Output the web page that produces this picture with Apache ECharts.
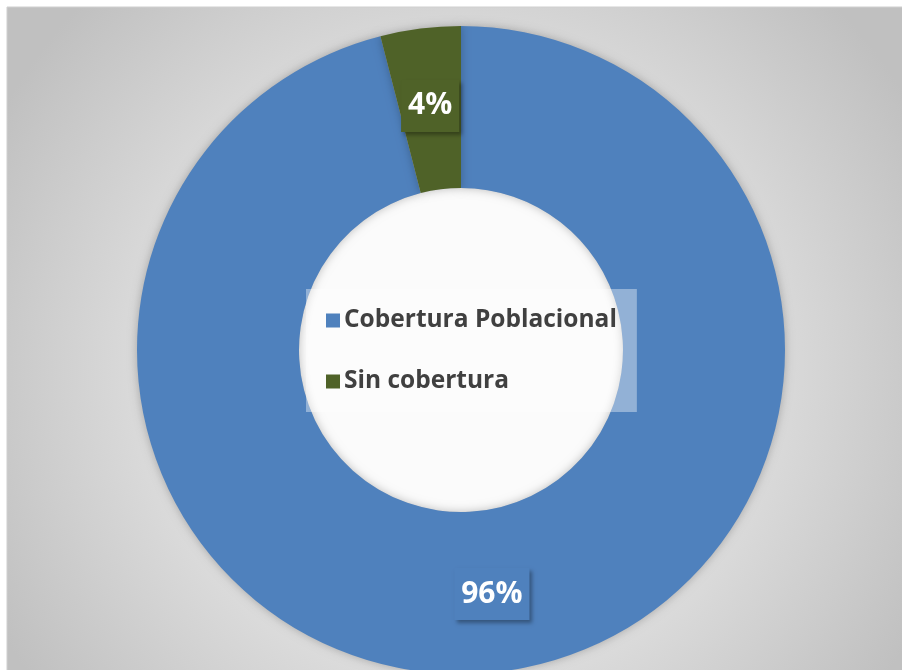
<!DOCTYPE html>
<html>
<head>
<meta charset="utf-8">
<script src="https://cdn.jsdelivr.net/npm/echarts@6/dist/echarts.min.js"></script>
<style>
html,body{margin:0;padding:0;background:#fff;}
#chart{width:902px;height:670px;}
</style>
</head>
<body>
<div id="chart"></div>
<script>
const categories = ['Cobertura Poblacional', 'Sin cobertura'];
const values = [96, 4];
const colors = ['#4F81BD', '#4F6228'];

const chart = echarts.init(document.getElementById('chart'), null, {renderer: 'canvas'});
const cx = 461, cy = 350;

const option = {
  backgroundColor: '#ffffff',
  animation: false,
  graphic: [{
    type: 'rect',
    z: -10,
    shape: {x: 7, y: 7, width: 920, height: 700},
    style: {
      fill: {
        type: 'radial', x: 0.49, y: 0.52, r: 0.75,
        colorStops: [{offset: 0, color: '#f0f0f0'}, {offset: 0.55, color: '#dedede'}, {offset: 1, color: '#c0c0c0'}]
      },
      stroke: '#cfcfcf', lineWidth: 1
    }
  }],
  legend: {
    orient: 'vertical',
    left: 306,
    top: 289,
    padding: [19, 20, 18, 20],
    backgroundColor: 'rgba(255,255,255,0.38)',
    itemWidth: 14,
    itemHeight: 14,
    itemGap: 36,
    icon: 'rect',
    data: categories,
    textStyle: {
      fontFamily: '"Open Sans", sans-serif',
      fontWeight: 'bold',
      fontSize: 24.5,
      color: '#404040',
      lineHeight: 24,
      padding: [0, 0, 0, -1]
    },
    z: 10
  },
  series: [
    {
      type: 'pie',
      silent: true,
      center: [cx, cy],
      radius: [0, 162],
      label: {show: false},
      labelLine: {show: false},
      itemStyle: {color: '#fbfbfb'},
      data: [{value: 1, name: ''}],
      legendHoverLink: false,
      z: 1
    },
    {
      type: 'pie',
      center: [cx, cy],
      radius: [162, 324],
      startAngle: 90,
      clockwise: true,
      avoidLabelOverlap: false,
      itemStyle: {
        shadowBlur: 10,
        shadowColor: 'rgba(0,0,0,0.25)',
        shadowOffsetX: 0,
        shadowOffsetY: 0
      },
      label: {
        show: true,
        position: 'inside',
        formatter: '{c}%',
        color: '#ffffff',
        fontFamily: '"Open Sans", sans-serif',
        fontWeight: 'bold',
        fontSize: 30,
        lineHeight: 30,
        padding: [11, 7, 11, 7],
        shadowBlur: 4,
        shadowOffsetX: 3,
        shadowOffsetY: 3,
        shadowColor: 'rgba(0,0,0,0.35)'
      },
      labelLine: {show: false},
      data: categories.map((n, i) => ({
        name: n,
        value: values[i],
        itemStyle: {color: colors[i]},
        label: {backgroundColor: colors[i]}
      })),
      z: 2
    }
  ]
};
chart.setOption(option);
</script>
</body>
</html>
